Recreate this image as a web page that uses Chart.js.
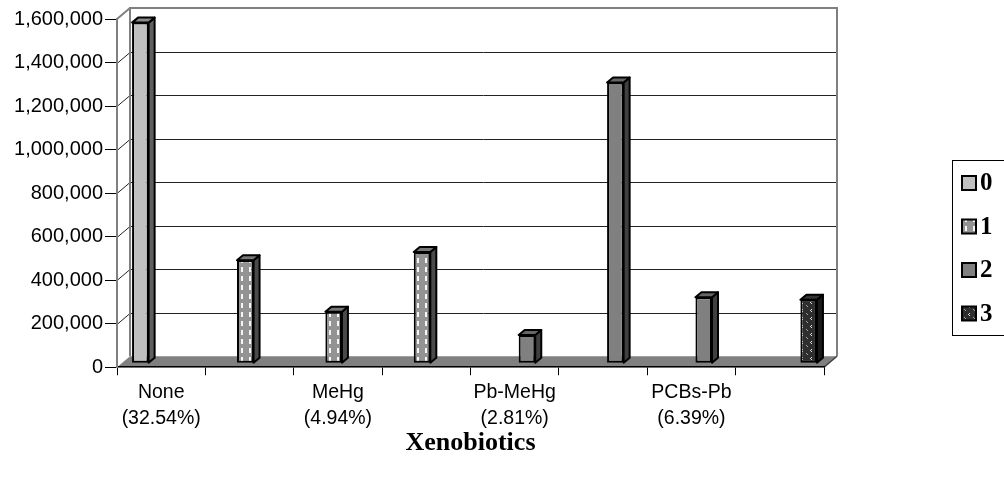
<!DOCTYPE html>
<html>
<head>
<meta charset="utf-8">
<script src="https://cdn.jsdelivr.net/npm/chart.js@4.4.0/dist/chart.umd.min.js"></script>
<style>
  html, body { margin: 0; padding: 0; background: #fff; }
  #wrap { position: relative; width: 1004px; height: 477px; }
</style>
</head>
<body>
<div id="wrap"><canvas id="chart"></canvas></div>
<script>
// categories (every other label is hidden in the original)
var CATEGORIES = [
  ['None', '(32.54%)'], ['', ''],
  ['MeHg', '(4.94%)'], ['', ''],
  ['Pb-MeHg', '(2.81%)'], ['', ''],
  ['PCBs-Pb', '(6.39%)'], ['', '']
];
var SERIES_NAMES = ['0', '1', '2', '3'];
var SERIES_0 = [1565000, null, null, null, null, null, null, null];
var SERIES_1 = [null, 473000, 237000, 511000, null, null, null, null];
var SERIES_2 = [null, null, null, null, 130000, 1290000, 303000, null];
var SERIES_3 = [null, null, null, null, null, null, null, 292000];
var Y_MAX = 1600000;
var Y_STEP = 200000;

var DX = 13, DY = 11;       // depth of the back wall
var SHIFT_X = 4, SHIFT_Y = 4; // columns stand in the middle of the floor
var BDX = 6, BDY = 5;       // depth of each column

function makePattern(w, h, bg, draw) {
  var c = document.createElement('canvas');
  c.width = w; c.height = h;
  var g = c.getContext('2d');
  g.fillStyle = bg; g.fillRect(0, 0, w, h);
  draw(g);
  return document.getElementById('chart').getContext('2d').createPattern(c, 'repeat');
}

var dashPattern = makePattern(8, 9, '#939393', function (g) {
  g.fillStyle = '#f6f6f6';
  g.fillRect(5, 1, 2, 5);
});
var divotPattern = makePattern(9, 8, '#2e2e2e', function (g) {
  g.fillStyle = '#dcdcdc';
  g.fillRect(6, 1, 1, 1); g.fillRect(5, 2, 1, 1); g.fillRect(6, 3, 1, 1);
  g.fillStyle = '#a0a0a0';
  g.fillRect(1, 5, 1, 1); g.fillRect(2, 6, 1, 1);
});

var FILLS = ['#c0c0c0', dashPattern, '#808080', divotPattern];
var SIDES = ['#606060', '#4a4a4a', '#404040', '#1a1a1a'];
var TOPS  = ['#8a8a8a', '#777777', '#666666', '#333333'];

var wallPlugin = {
  id: 'wall',
  beforeDraw: function (chart) {
    var ctx = chart.ctx, a = chart.chartArea, y = chart.scales.y;
    ctx.save();
    // floor
    ctx.fillStyle = '#808080';
    ctx.beginPath();
    ctx.moveTo(a.left, a.bottom);
    ctx.lineTo(a.right, a.bottom);
    ctx.lineTo(a.right + DX, a.bottom - DY);
    ctx.lineTo(a.left + DX, a.bottom - DY);
    ctx.closePath();
    ctx.fill();
    // gridlines on the back wall + diagonals on the side wall
    ctx.strokeStyle = '#222';
    ctx.lineWidth = 1;
    y.ticks.forEach(function (t) {
      if (t.value === 0 || t.value === Y_MAX) return;
      var py = Math.round(y.getPixelForValue(t.value)) + 0.5;
      ctx.beginPath();
      ctx.moveTo(a.left + DX, py - DY);
      ctx.lineTo(a.right + DX, py - DY);
      ctx.moveTo(a.left, py);
      ctx.lineTo(a.left + DX, py - DY);
      ctx.stroke();
    });
    // wall outline
    ctx.strokeStyle = '#808080';
    ctx.lineWidth = 2;
    ctx.beginPath();
    ctx.moveTo(a.left + DX, a.bottom - DY);
    ctx.lineTo(a.left + DX, a.top - DY);
    ctx.lineTo(a.right + DX, a.top - DY);
    ctx.lineTo(a.right + DX, a.bottom - DY);
    ctx.moveTo(a.left, a.top);
    ctx.lineTo(a.left + DX, a.top - DY);
    ctx.stroke();
    ctx.strokeStyle = '#404040';
    ctx.lineWidth = 1.5;
    ctx.beginPath();
    ctx.moveTo(a.right, a.bottom);
    ctx.lineTo(a.right + DX, a.bottom - DY);
    ctx.stroke();
    ctx.restore();
  },
  beforeDatasetsDraw: function (chart) {
    chart.ctx.save();
    chart.ctx.translate(SHIFT_X, -SHIFT_Y);
  },
  afterDatasetsDraw: function (chart) {
    var ctx = chart.ctx;
    chart.data.datasets.forEach(function (ds, i) {
      var meta = chart.getDatasetMeta(i);
      meta.data.forEach(function (bar, j) {
        if (ds.data[j] == null) return;
        var p = bar.getProps(['x', 'y', 'base', 'width'], true);
        var L = p.x - p.width / 2, R = p.x + p.width / 2;
        ctx.lineWidth = 2;
        ctx.lineJoin = 'round';
        ctx.strokeStyle = '#000';
        ctx.fillStyle = SIDES[i];
        ctx.beginPath();
        ctx.moveTo(R, p.y);
        ctx.lineTo(R + BDX, p.y - BDY);
        ctx.lineTo(R + BDX, p.base - BDY);
        ctx.lineTo(R, p.base);
        ctx.closePath();
        ctx.fill(); ctx.stroke();
        ctx.fillStyle = TOPS[i];
        ctx.beginPath();
        ctx.moveTo(L, p.y);
        ctx.lineTo(L + BDX, p.y - BDY);
        ctx.lineTo(R + BDX, p.y - BDY);
        ctx.lineTo(R, p.y);
        ctx.closePath();
        ctx.fill(); ctx.stroke();
      });
    });
    ctx.restore();
  },
  afterDraw: function (chart) {
    // boxed legend on the right
    var ctx = chart.ctx;
    var lx = 952, ly = 160, lh = 175, step = 43.5;
    ctx.save();
    ctx.strokeStyle = '#000';
    ctx.lineWidth = 1;
    ctx.strokeRect(lx + 0.5, ly + 0.5, 80, lh);
    ctx.font = 'bold 25px "Liberation Serif"';
    ctx.textBaseline = 'middle';
    chart.data.datasets.forEach(function (ds, i) {
      var cy = ly + 23 + i * step;
      ctx.fillStyle = FILLS[i];
      ctx.fillRect(962, cy - 7, 14, 14);
      ctx.lineWidth = 2;
      ctx.strokeRect(962, cy - 7, 14, 14);
      ctx.fillStyle = '#000';
      ctx.fillText(ds.label, 980, cy + 1);
    });
    ctx.restore();
  }
};

var datasets = [SERIES_0, SERIES_1, SERIES_2, SERIES_3].map(function (vals, i) {
  return {
    label: SERIES_NAMES[i],
    data: vals,
    backgroundColor: FILLS[i],
    borderColor: '#000',
    borderWidth: 2,
    borderSkipped: false,
    categoryPercentage: 0.75,
    barPercentage: 1.0,
    clip: false
  };
});

new Chart(document.getElementById('chart'), {
  type: 'bar',
  data: { labels: CATEGORIES, datasets: datasets },
  options: {
    responsive: true,
    maintainAspectRatio: false,
    animation: false,
    layout: { padding: { top: 19, right: 180, bottom: 21, left: 0 } },
    plugins: { legend: { display: false }, tooltip: { enabled: false } },
    scales: {
      x: {
        grid: { drawOnChartArea: false, offset: true, color: '#000', tickLength: 8 },
        border: { color: '#000', width: 1.5 },
        ticks: {
          autoSkip: false, maxRotation: 0, color: '#000', padding: 4,
          font: { family: '"Liberation Sans"', size: 19.5, lineHeight: 1.33 }
        },
        title: {
          display: true, text: 'Xenobiotics', color: '#000',
          font: { family: '"Liberation Serif"', size: 26, weight: 'bold', lineHeight: 1.15 },
          padding: { top: -7, bottom: -2 }
        }
      },
      y: {
        min: 0, max: Y_MAX,
        afterFit: function (scale) { scale.width = 117; },
        grid: { drawOnChartArea: false, color: '#000', tickLength: 12 },
        border: { color: '#808080', width: 2 },
        ticks: {
          stepSize: Y_STEP, color: '#000', padding: 2,
          font: { family: '"Liberation Sans"', size: 20 },
          callback: function (v) { return v.toLocaleString('en-US'); }
        }
      }
    }
  },
  plugins: [wallPlugin]
});
</script>
</body>
</html>
